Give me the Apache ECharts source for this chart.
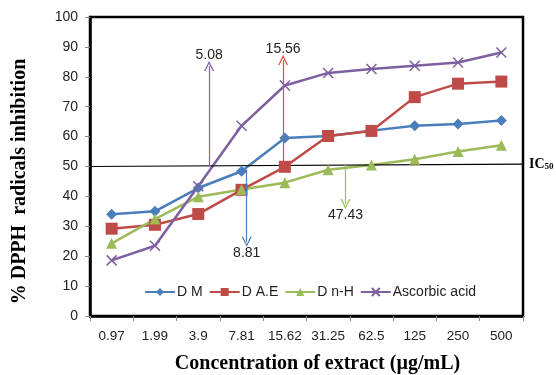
<!DOCTYPE html>
<html>
<head>
<meta charset="utf-8">
<script src="https://cdn.jsdelivr.net/npm/echarts@6/dist/echarts.min.js"></script>
<style>
  html, body { margin: 0; padding: 0; background: #fff; }
  #chart { width: 556px; height: 375px; }
</style>
</head>
<body>
<div id="chart"></div>
<script>
  // 浓度分类
  var categories = ['0.97', '1.99', '3.9', '7.81', '15.62', '31.25', '62.5', '125', '250', '500'];
  var dmValues = [34.0, 35.0, 42.8, 48.4, 59.5, 60.2, 62.0, 63.6, 64.2, 65.4];
  var daeValues = [29.2, 30.5, 34.1, 42.2, 49.9, 60.2, 61.9, 73.2, 77.7, 78.4];
  var dnhValues = [24.3, 32.4, 39.9, 42.3, 44.6, 48.9, 50.5, 52.4, 55.0, 57.1];
  var ascValues = [18.6, 23.5, 43.4, 63.6, 77.1, 81.3, 82.6, 83.7, 84.8, 88.1];
  // IC50 标注 (隐藏的数值x轴, 0-10 对应整个分类范围)
  var ic50Line = [[0, 50.0], [10, 50.8]];
  var arrowX = [2.75, 4.46, 3.62, 5.90];
  var arrowFrom = [50.1, 50.2, 49.0, 50.5];
  var arrowTo = [83.6, 85.6, 24.8, 37.5];
  var arrowText = ['5.08', '15.56', '8.81', '47.43'];
  var arrowColor = ['#8064a2', '#e04b48', '#4a7ebb', '#9bbb59'];

  var chart = echarts.init(document.getElementById('chart'));
  var chevron = 'path://M0,10 L5,0 L10,10 L8.6,10 L5,2.6 L1.4,10 Z';
  var cross = 'path://M0,0 L10,10 M10,0 L0,10';
  var txtFont = '"Liberation Sans", Arial, sans-serif';
  var titleFont = '"Liberation Serif", serif';

  var arrowData = [];
  for (var i = 0; i < arrowX.length; i++) {
    arrowData.push([
      { coord: [arrowX[i], arrowFrom[i]], lineStyle: { color: arrowColor[i] } },
      { coord: [arrowX[i], arrowTo[i]], label: { formatter: arrowText[i] } }
    ]);
  }

  var option = {
    animation: false,
    grid: {
      left: 90, right: 33, top: 17, bottom: 59,
      outerBoundsMode: 'none',
      show: true, borderColor: '#000', borderWidth: 2.5
    },
    legend: {
      data: ['D M', 'D A.E', 'D n-H', 'Ascorbic acid'],
      left: 139,
      top: 280,
      itemWidth: 30,
      itemHeight: 10,
      itemGap: 6,
      textStyle: { fontFamily: txtFont, fontSize: 14, color: '#222', padding: [0, 0, 0, -3] }
    },
    xAxis: [{
      type: 'category',
      data: categories,
      boundaryGap: true,
      name: 'Concentration of extract (µg/mL)',
      nameLocation: 'middle',
      nameGap: 38,
      nameTextStyle: { fontFamily: titleFont, fontWeight: 'bold', fontSize: 20, color: '#000', padding: [0, 0, 0, 22] },
      axisLine: { lineStyle: { color: '#000', width: 2.5 } },
      axisTick: { show: true, length: 5, lineStyle: { color: '#888' } },
      axisLabel: { interval: 0, fontFamily: txtFont, fontSize: 13.5, color: '#222', margin: 13 }
    }, {
      type: 'value', min: 0, max: 10, show: false
    }],
    yAxis: {
      type: 'value',
      min: 0,
      max: 100,
      interval: 10,
      name: '% DPPH  radicals inhibition',
      nameLocation: 'middle',
      nameGap: 60,
      nameTextStyle: { fontFamily: titleFont, fontWeight: 'bold', fontSize: 20, color: '#000', padding: [0, 30, 0, 0] },
      axisLine: { show: true, lineStyle: { color: '#000', width: 2.5 } },
      axisTick: { show: true, length: 5, lineStyle: { color: '#888' } },
      axisLabel: { fontFamily: txtFont, fontSize: 14, color: '#222', margin: 12 },
      splitLine: { show: false }
    },
    series: [{
      name: 'D M',
      type: 'line',
      data: dmValues,
      symbol: 'diamond',
      symbolSize: 11,
      color: '#4a7ebb',
      lineStyle: { width: 2.5 }
    }, {
      name: 'D A.E',
      type: 'line',
      data: daeValues,
      symbol: 'rect',
      symbolSize: 12,
      color: '#be4b48',
      lineStyle: { width: 2.5 }
    }, {
      name: 'D n-H',
      type: 'line',
      data: dnhValues,
      symbol: 'triangle',
      symbolSize: 11,
      color: '#9bbb59',
      lineStyle: { width: 2.5 }
    }, {
      name: 'Ascorbic acid',
      type: 'line',
      data: ascValues,
      symbol: cross,
      symbolSize: 10,
      color: '#7d60a0',
      itemStyle: { borderColor: '#7d60a0', borderWidth: 1.5 },
      lineStyle: { width: 2.5 }
    }, {
      name: 'ic50',
      type: 'line',
      xAxisIndex: 1,
      data: ic50Line,
      symbol: 'none',
      color: '#000',
      lineStyle: { width: 1.2 },
      silent: true,
      endLabel: {
        show: true,
        formatter: 'IC{s|50}',
        fontFamily: titleFont,
        fontWeight: 'bold',
        fontSize: 14,
        color: '#000',
        distance: 6,
        rich: { s: { fontFamily: titleFont, fontWeight: 'bold', fontSize: 9, verticalAlign: 'bottom', padding: [6, 0, 0, 0] } }
      },
      markLine: {
        silent: true,
        symbol: ['none', chevron],
        symbolSize: [10, 10],
        lineStyle: { type: 'solid', width: 1.2 },
        label: { show: true, position: 'end', distance: 4, fontFamily: txtFont, fontSize: 14, color: '#222' },
        data: arrowData
      }
    }]
  };

  chart.setOption(option);
</script>
</body>
</html>
